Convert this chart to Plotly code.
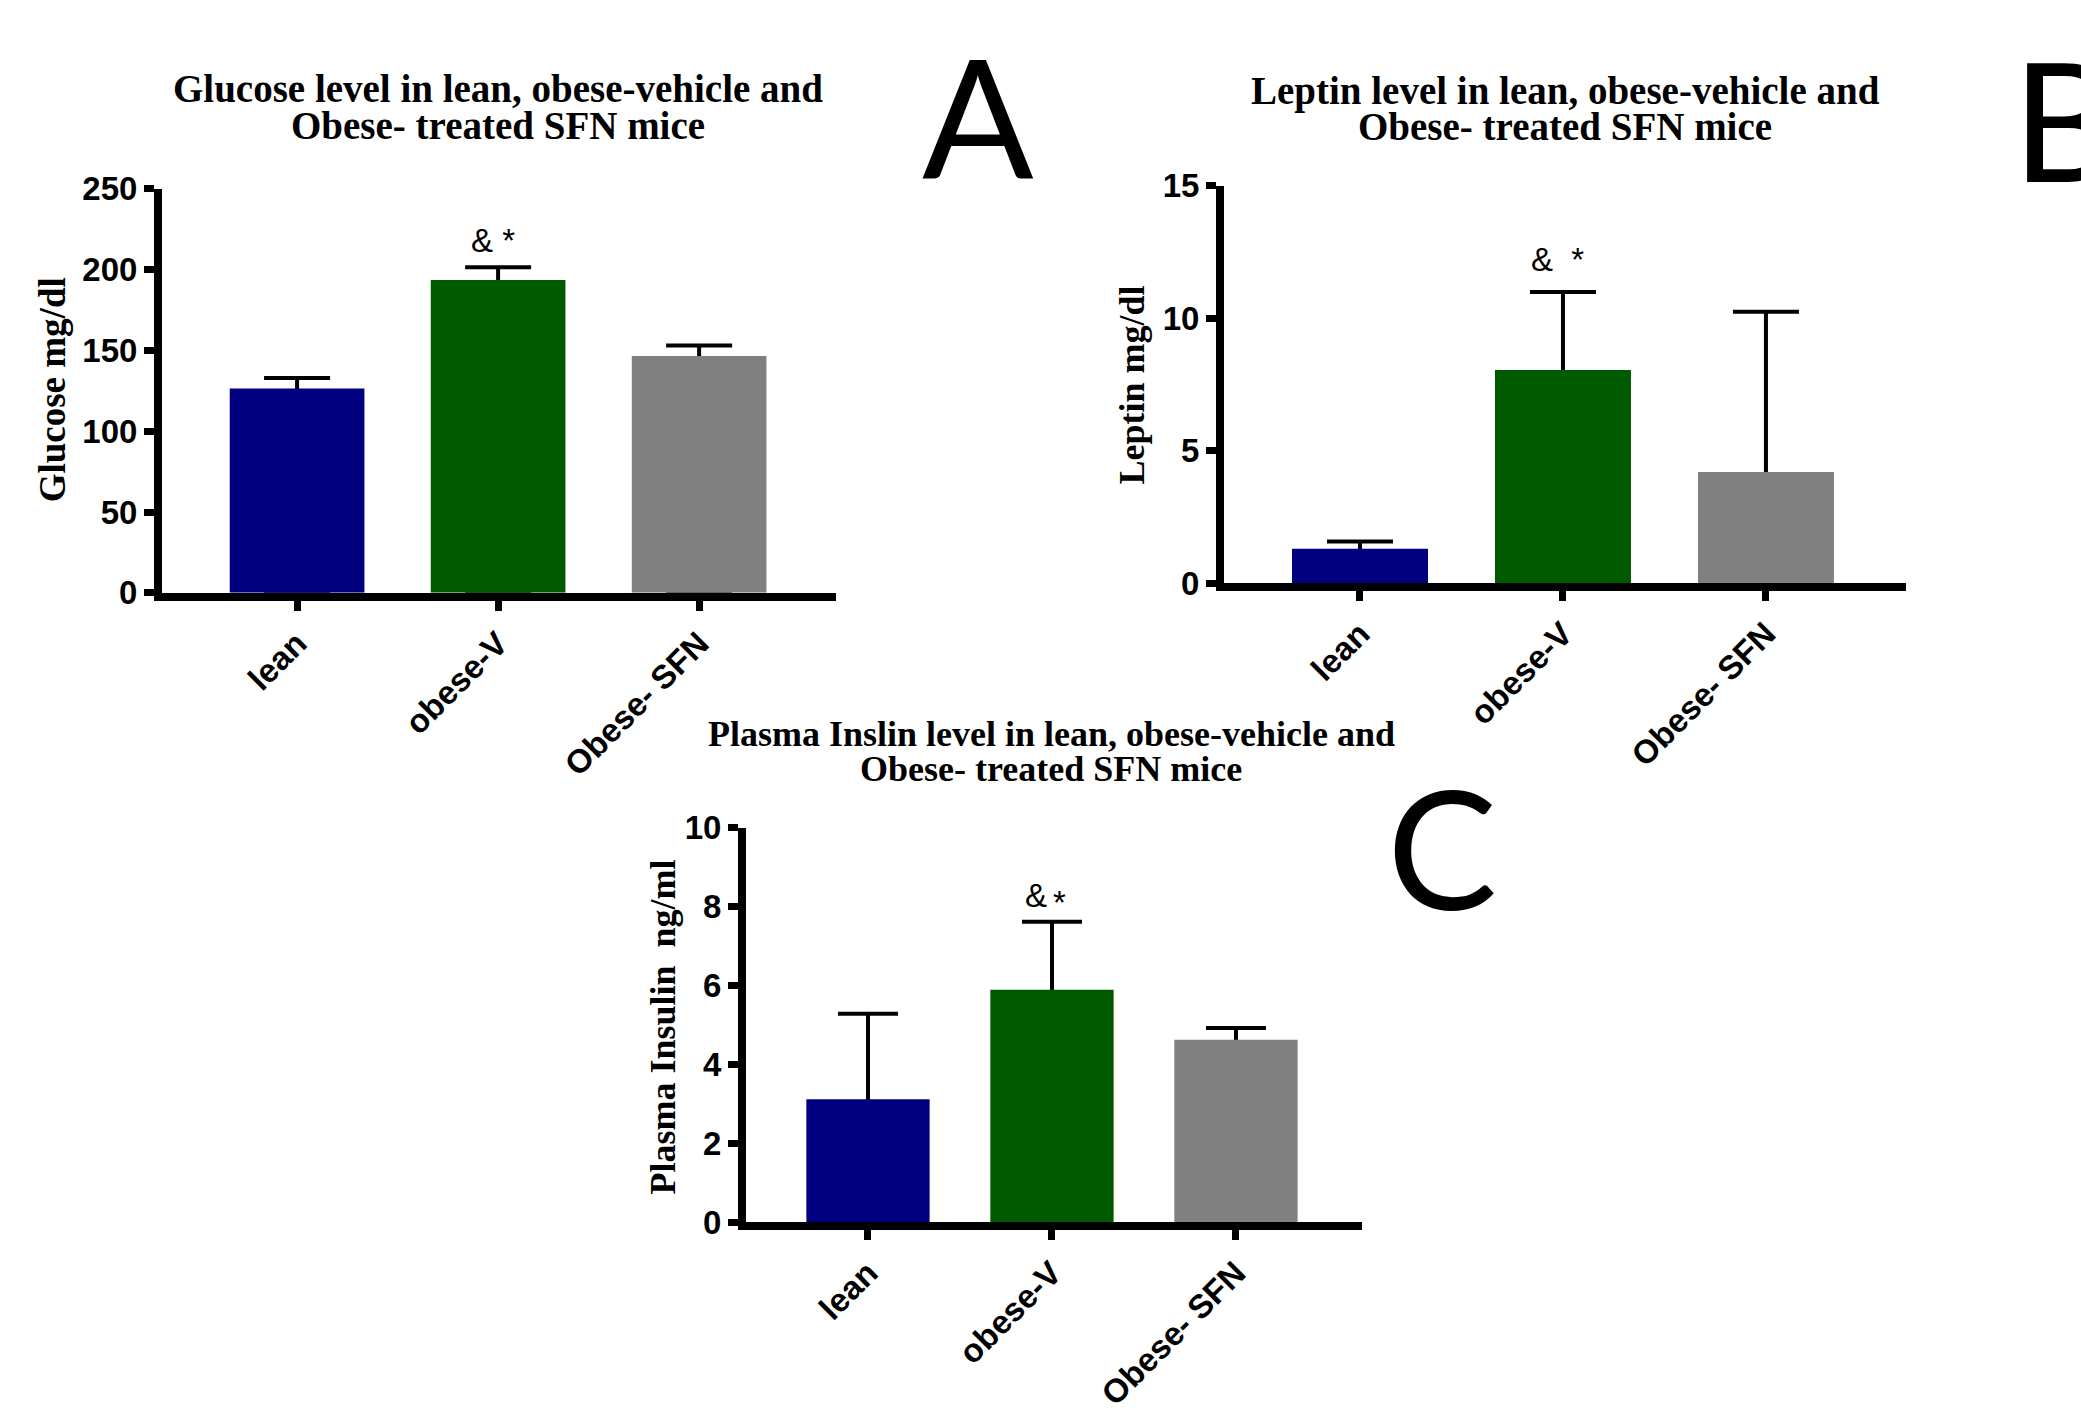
import plotly.graph_objects as go

W, H = 2081, 1412

categories = ["lean", "obese-V", "Obese- SFN"]

glucose_mean = [126.5, 193.5, 146.5]
glucose_err = [6.5, 8.0, 6.5]
glucose_ticks = [0, 50, 100, 150, 200, 250]

leptin_mean = [1.3, 8.05, 4.2]
leptin_err = [0.28, 2.95, 6.05]
leptin_ticks = [0, 5, 10, 15]

insulin_mean = [3.12, 5.9, 4.63]
insulin_err = [2.17, 1.72, 0.30]
insulin_ticks = [0, 2, 4, 6, 8, 10]

bar_colors = ["#000080", "#005A00", "#808080"]

titles = {
    "A": ["Glucose level in lean, obese-vehicle and", "Obese- treated SFN mice"],
    "B": ["Leptin level in lean, obese-vehicle and", "Obese- treated SFN mice"],
    "C": ["Plasma Inslin level in lean, obese-vehicle and", "Obese- treated SFN mice"],
}
ytitles = {"A": "Glucose mg/dl", "B": "Leptin mg/dl", "C": "Plasma Insulin\u00a0 ng/ml"}


def px(x):
    return x / W


def py(y):
    return 1 - y / H


fig = go.Figure()

panels = [
    ("A", glucose_mean, glucose_err, glucose_ticks, "x", "y", (162, 836), (178, 599), [-0.672, 2.681], 33),
    ("B", leptin_mean, leptin_err, leptin_ticks, "x2", "y2", (1224, 1906), (175, 589), [-0.670, 2.690], 33),
    ("C", insulin_mean, insulin_err, insulin_ticks, "x3", "y3", (746, 1362), (844, 1255), [-0.663, 2.685], 30),
]

tick_font = dict(family="Liberation Sans", size=33, color="black", weight="bold")

layout_axes = {}
for key, means, errs, ticks, xr, yr, xd, yd, xrange, capw in panels:
    # error bars: stem starts at 0 so its lower cap hides under the axis line;
    # the part inside the bar is covered by the coloured bars drawn next
    fig.add_trace(go.Bar(
        x=categories, y=means,
        marker=dict(color="rgba(0,0,0,0)", line=dict(width=0)),
        error_y=dict(type="data", array=errs, arrayminus=means, symmetric=False,
                     color="black", thickness=4, width=capw),
        xaxis=xr, yaxis=yr, showlegend=False, hoverinfo="skip",
    ))
    fig.add_trace(go.Bar(
        x=categories, y=means,
        marker=dict(color=bar_colors, line=dict(width=0)),
        xaxis=xr, yaxis=yr, showlegend=False,
    ))
    xname = "xaxis" + xr[1:]
    yname = "yaxis" + yr[1:]
    layout_axes[xname] = dict(
        domain=[px(xd[0]), px(xd[1])], anchor=yr, range=xrange,
        showline=True, linewidth=8, linecolor="black", layer="above traces",
        ticks="outside", ticklen=10, tickwidth=7, tickcolor="black",
        tickangle=-45, showgrid=False, zeroline=False,
        tickfont=tick_font, fixedrange=True,
    )
    layout_axes[yname] = dict(
        domain=[py(yd[1]), py(yd[0])], anchor=xr, range=[0, ticks[-1]],
        tickvals=ticks, showline=True, linewidth=8, linecolor="black", layer="above traces",
        ticks="outside", ticklen=10, tickwidth=7, tickcolor="black",
        showgrid=False, zeroline=False,
        tickfont=tick_font, fixedrange=True,
    )

fig.update_layout(**layout_axes)
fig.update_layout(barmode="overlay", bargap=0.33)

ann = []

title_pos = {"A": (498, 73, 112, 39), "B": (1565, 76, 113, 39), "C": (1051, 746, 783, 36)}
for k, (cx, y1, y2, fs) in title_pos.items():
    for line, yy in zip(titles[k], (y1, y2)):
        ann.append(dict(text=line, x=px(cx), y=py(yy), xref="paper", yref="paper",
                        xanchor="center", yanchor="middle", showarrow=False,
                        font=dict(family="Liberation Serif", size=fs, color="black", weight="bold")))

ytitle_pos = {"A": (52, 388, 37), "B": (1132, 383, 36), "C": (663, 1052, 36)}
for k, (cx, cy, fs) in ytitle_pos.items():
    ann.append(dict(text=ytitles[k], x=px(cx), y=py(cy), xref="paper", yref="paper",
                    xanchor="center", yanchor="middle", textangle=-90, showarrow=False,
                    font=dict(family="Liberation Serif", size=fs, color="black", weight="bold")))

big = dict(family="Lato", size=165, color="black")
for letter, cx, cy in [("A", 978, 100), ("B", 2065, 104), ("C", 1442, 863)]:
    ann.append(dict(text=letter, x=px(cx), y=py(cy), xref="paper", yref="paper",
                    xanchor="center", yanchor="middle", showarrow=False, font=big))

sig = dict(family="Liberation Sans", size=33, color="black")
ann.append(dict(text="& *", x=px(493), y=py(232), xref="paper", yref="paper",
                xanchor="center", yanchor="middle", showarrow=False, font=sig))
ann.append(dict(text="&\u00a0\u00a0*", x=px(1557), y=py(252), xref="paper", yref="paper",
                xanchor="center", yanchor="middle", showarrow=False, font=sig))
ann.append(dict(text="&", x=px(1036), y=py(914), xref="paper", yref="paper",
                xanchor="center", yanchor="middle", showarrow=False, font=sig))
ann.append(dict(text="*", x=px(1059), y=py(922), xref="paper", yref="paper",
                xanchor="center", yanchor="middle", showarrow=False, font=sig))

fig.update_layout(
    annotations=ann,
    width=W, height=H,
    margin=dict(l=0, r=0, t=0, b=0),
    paper_bgcolor="white", plot_bgcolor="white",
    showlegend=False,
)

page_fix = (
    "var de=document.documentElement, b=document.body;"
    "de.style.margin='0';de.style.padding='0';de.style.overflow='hidden';"
    "b.style.margin='0';b.style.padding='0';b.style.overflow='hidden';"
)

fig.write_html("out.html", config={"displayModeBar": False}, post_script=page_fix)
